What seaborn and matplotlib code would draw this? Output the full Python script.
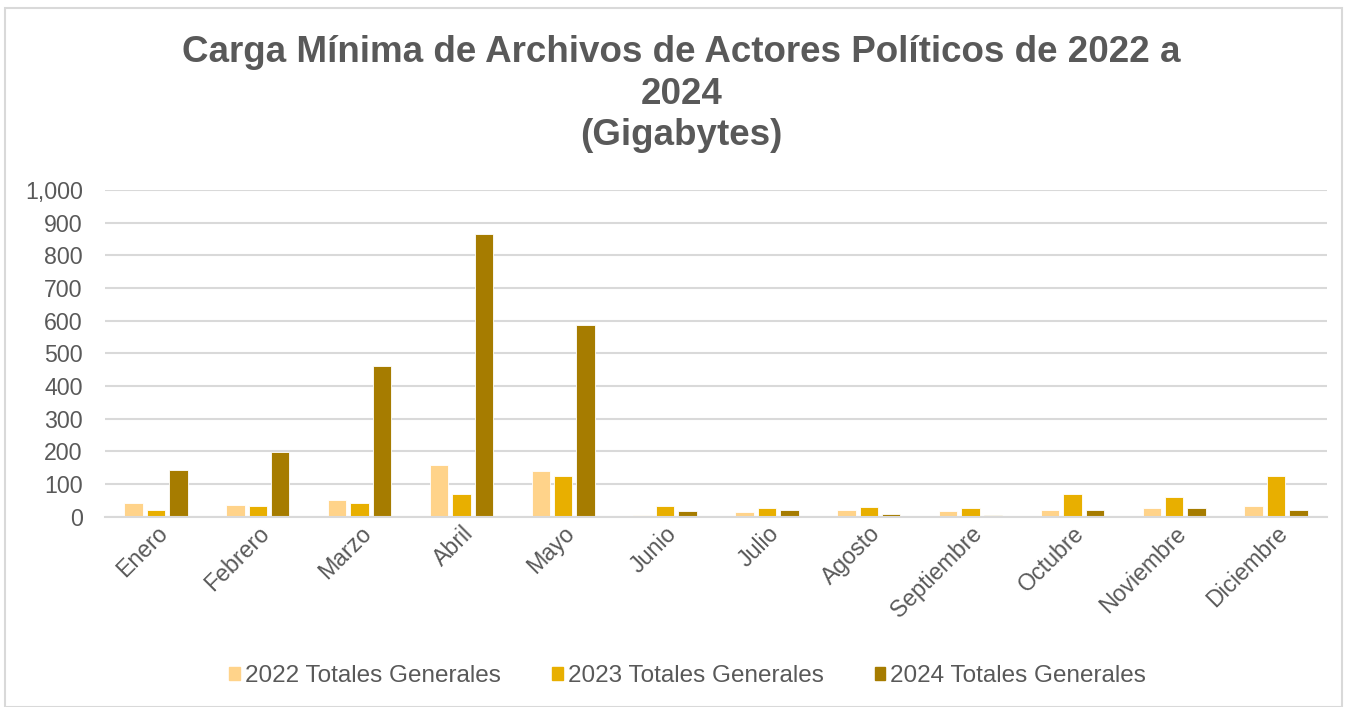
import pandas as pd
import matplotlib.pyplot as plt
import seaborn as sns
from matplotlib.patches import Rectangle

# Datos
meses = ['Enero', 'Febrero', 'Marzo', 'Abril', 'Mayo', 'Junio', 'Julio',
         'Agosto', 'Septiembre', 'Octubre', 'Noviembre', 'Diciembre']
v2022 = [41, 36, 52, 158, 138, 5, 13, 21, 17, 21, 25, 32]
v2023 = [21, 32, 41, 69, 123, 32, 25, 29, 25, 69, 60, 123]
v2024 = [143, 197, 462, 864, 587, 17, 21, 9, 5, 21, 25, 21]
series = ['2022 Totales Generales', '2023 Totales Generales', '2024 Totales Generales']
colores = ['#FFD38A', '#E8AF00', '#A67C00']

df = pd.DataFrame({
    'mes': meses * 3,
    'serie': [series[0]] * 12 + [series[1]] * 12 + [series[2]] * 12,
    'valor': v2022 + v2023 + v2024,
})

sns.set_theme(style='white')
plt.rcParams['font.family'] = ['Liberation Sans', 'DejaVu Sans']

gris = '#595959'
fig = plt.figure(figsize=(13.47, 7.07), dpi=100)
ax = fig.add_axes([105 / 1347, 1 - 516.5 / 707, (1327 - 105) / 1347, (516.5 - 190) / 707])

sns.barplot(
    data=df, x='mes', y='valor', hue='serie',
    order=meses, hue_order=series, palette=colores, saturation=1,
    width=0.66, gap=0.18, edgecolor='white', linewidth=0.6,
    legend=False, ax=ax
)

ax.set_ylim(0, 1000)
ax.set_yticks(range(0, 1001, 100))
ax.set_yticklabels([f'{v:,}' for v in range(0, 1001, 100)])
ax.set_xlim(-0.5, 11.5)
ax.yaxis.grid(True, color='#D9D9D9', linewidth=1.5)
ax.set_axisbelow(True)
for s in ['top', 'right', 'left']:
    ax.spines[s].set_visible(False)
ax.spines['bottom'].set_color('#D9D9D9')
ax.spines['bottom'].set_linewidth(1.5)
ax.tick_params(axis='y', length=0, pad=16, labelsize=16.7, labelcolor=gris)
ax.tick_params(axis='x', length=0, pad=4, labelsize=16.7, labelcolor=gris)
plt.setp(ax.get_xticklabels(), rotation=45, ha='right', rotation_mode='anchor')
ax.set_xlabel('')
ax.set_ylabel('')

fig.text(0.506, 1 - 94 / 707,
         'Carga Mínima de Archivos de Actores Políticos de 2022 a\n2024\n(Gigabytes)',
         ha='center', va='center', fontsize=26.5, fontweight='bold', color=gris,
         linespacing=1.24)

# Leyenda
handles = [Rectangle((0, 0), 1, 1, color=c) for c in colores]
fig.legend(handles, series, loc='center', bbox_to_anchor=(0.5105, 1 - 676 / 707),
           ncol=3, frameon=False, fontsize=17.5, labelcolor=gris,
           handlelength=0.45, handleheight=0.45, handletextpad=0.2,
           columnspacing=2.1)

# Borde
fig.patches.append(Rectangle((5 / 1347, 0), 1 - 10 / 1347, 1 - 8 / 707,
                             transform=fig.transFigure, fill=False,
                             edgecolor='#D9D9D9', linewidth=1.5))

fig.savefig('out.png', dpi=100)
